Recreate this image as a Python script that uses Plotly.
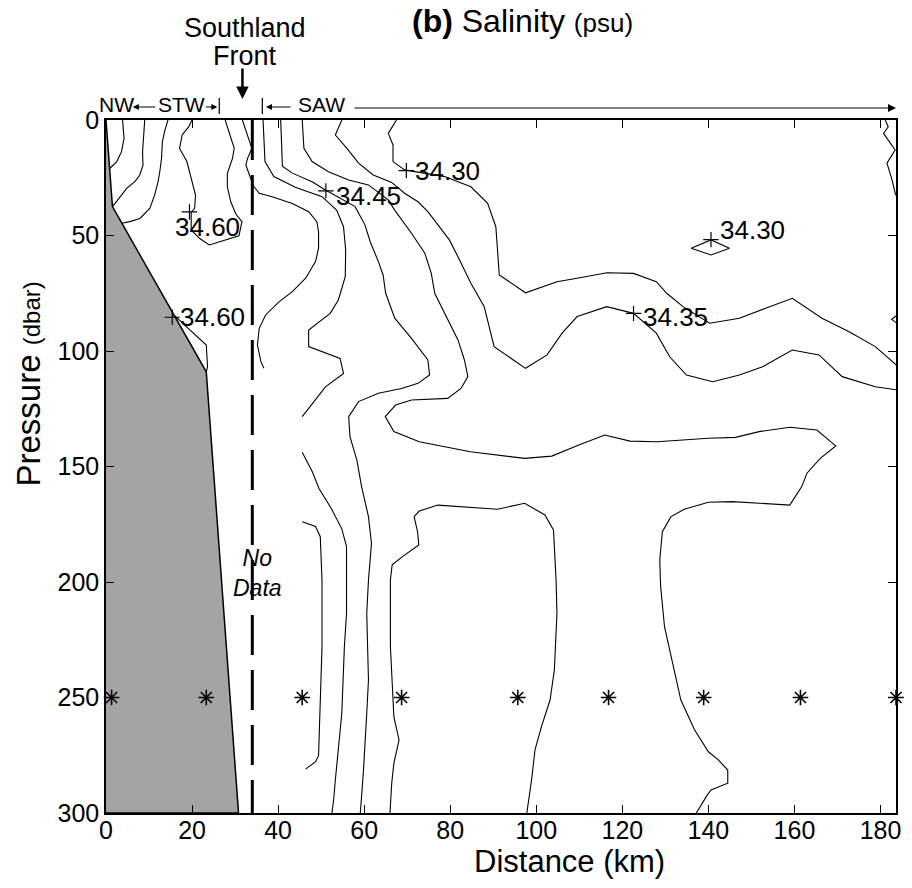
import plotly.graph_objects as go

# ---------------- data (distance km, pressure dbar) ----------------
# bathymetry / shelf polygon (grey)
shelf_x = [0, 1.5, 23.3, 30.8, 0]
shelf_y = [0, 37.5, 109, 300, 300]

# CTD station positions (plotted at 250 dbar)
station_km = [1.3, 23.3, 45.6, 68.7, 95.7, 116.8, 138.9, 161.4, 183.6]
station_p = [250] * len(station_km)

front_km = 34.0  # Southland Front (dashed)

# isohaline traces
A_x = [3.85, 4.2, 3.6, 2.5, 0.85]
A_y = [0, 7.9, 13.7, 18, 21]
B_x = [9.0, 8.6, 8.5, 8.6, 7.85, 6.7, 4.8, 3.6, 2.1, 1.5]
B_y = [0, 9.4, 13.7, 19.5, 23.8, 26.7, 29.6, 32.5, 36.1, 37.5]
C_x = [14.4, 13.6, 13.1, 12.9, 12.5, 12.1, 11.3, 10.2, 7.9, 5.5, 3.7]
C_y = [0, 5, 9.4, 16.6, 22.4, 26.7, 32.5, 38.2, 42.6, 44, 44.7]
D_x = [20.0, 19.2, 17.7, 17.1, 18.8, 19.4, 20.3, 20.8, 20.6, 19.8, 19.8, 21.7, 24.0,
       27.1, 30.9, 31.6, 30.2, 29.0, 28.2, 28.2, 29.4, 29.8, 28.6, 27.7]
D_y = [0, 3, 6.5, 12.3, 18, 22.4, 28.1, 32.5, 38.2, 40, 47.6, 51.2, 54.1,
       52.4, 50.1, 44, 40.8, 35.4, 28.9, 23.1, 16.6, 12.3, 5.1, 0]
F_x = [15.8, 19.4, 23.3, 23.6, 23.3]
F_y = [84.5, 90.9, 97.4, 106.8, 109]
G_x = [31.7, 32.9, 33.9, 32.9, 32.5, 33.6, 34.4, 35.6, 38.6, 43.3, 47.1, 49.0, 49.4,
       49.4, 48.7, 46.4, 43.3, 40.2, 37.1, 35.6, 35.2, 36.0, 36.7]
G_y = [0, 6.5, 12.3, 16.6, 19.5, 25.2, 28.9, 31.7, 33.2, 36.1, 39.7, 44, 48.4,
       55.5, 61.3, 68.5, 74.3, 78.7, 84.4, 90.2, 97.4, 104.6, 107.5]
H_x = [36.5, 36.95, 39, 44, 50.2, 53.6, 55.2, 55.7, 55.6, 54, 52.1, 47.1, 47.1,
       54.4, 55.2, 51, 45.6]
H_y = [0, 18, 24.5, 29.1, 33.2, 39, 46.2, 56.3, 67.8, 77.9, 83.7, 90.9, 98.1,
       103.2, 109.7, 115.5, 128.4]
I_x = [40.6, 41.0, 43.3, 47.9, 51.0, 57.9, 60.2, 61.4, 63.3, 64.4, 65.0, 67.1, 71.0,
       74.8, 75.2, 72.5, 68.7, 63.3, 58.7, 56.4, 56.7, 58.3, 59.4, 61.0, 61.7, 61.0,
       60.6, 61.0, 60.6, 60.2, 59.8, 59.1]
I_y = [0, 20, 23, 26.7, 30.3, 37.5, 45.5, 52.7, 61.3, 67.1, 75, 85.8, 94.5,
       103.9, 110.4, 114, 116.2, 118.3, 121.9, 128.4, 137.1, 147.2, 158.7, 171.7, 183.3, 199.1,
       213.6, 242.4, 256.8, 271.3, 282.8, 300]
J_x = [45.6, 46, 47.9, 51.7, 56.4, 61, 65.6, 67.1, 71, 74.1, 75.6, 76.4, 78.7, 81.8,
       83.3, 84.1, 82.5, 79.4, 71, 67.3, 64.9, 66.9, 72.8, 84.7, 97.3, 103.6, 109.9,
       115.9, 121.8, 128.1, 140, 146.3, 151.8, 158.9, 165.2, 169.6, 166, 162.9, 161.7,
       158.9, 145.5, 140, 134.4, 131.3, 129.3, 128.7, 128.9, 129.8, 131.7, 133.6, 136.8,
       140, 142.3, 144.5, 144.5, 140.6, 139.5, 137.2]
J_y = [0, 12.3, 18, 22.4, 26, 28.1, 34.6, 39, 49, 57.7, 66.4, 75, 83.7, 95.2,
       103.9, 111.1, 116.2, 120.5, 121.2, 123.4, 128.4, 134.9, 139.3, 143.6, 146.5, 145.5, 140.7,
       136.4, 139, 139.3, 137.8, 137.4, 134.9, 133, 134.2, 141.1, 146.5, 152.9, 158.7,
       166.7, 165.2, 165.5, 168.5, 171.7, 178.2, 190.5, 202, 219.3, 235.2, 251.1, 264.1,
       273.5, 277, 281.4, 287.1, 290, 292.9, 300]
K_x = [54.8, 53.3, 56, 58.7, 62.1, 66.4, 69.4, 72.5, 74.8, 77.1, 79.8, 81.8, 84.8, 87.9,
       90.2, 97.5, 102.5, 106, 109.5, 116.4, 122.6, 127.9, 131, 134.9, 141, 147.2, 152.6,
       159.5, 165.7, 171.1, 178.8, 184.1]
K_y = [0, 6.5, 12.3, 18.7, 23.8, 27, 31.7, 35.4, 39.7, 45.5, 51.9, 59.2, 70.7, 80.8,
       98.1, 107.5, 101.7, 92.3, 85.1, 80.8, 83.7, 92.3, 102.5, 110.4, 113.3, 110.4, 106.8,
       99.6, 101.7, 111.1, 115.5, 116.9]
L_x = [67.5, 65.6, 66.7, 66.7, 69.4, 78.7, 84.8, 88.7, 90.6, 91.0, 91.4, 97.5, 104.8,
       109.5, 116.4, 122.6, 127.9, 130.3, 134.1, 140.3, 147.2, 153.3, 159.5, 166.4, 172.6,
       178.8, 184.1]
L_y = [0, 5.8, 10.8, 18, 21.6, 24.5, 28.9, 36.1, 46.2, 54.8, 67.1, 74.8, 70,
       68.5, 66.1, 66.4, 70, 75, 80.8, 88, 85.8, 81.5, 77.2, 85.8, 91.6,
       98.1, 106.8]
M_x = [136, 140.6, 144.9, 140.6, 136]
M_y = [55.5, 51.9, 55.5, 58.4, 55.5]
N_x = [181.1, 181.8, 180.7, 183.4, 181.5, 182.7, 183.4, 184.0]
N_y = [0, 2.9, 5.8, 13, 18.7, 26, 31.7, 34]
O_x = [184.0, 182.6, 184.0]
O_y = [84.3, 86.3, 88.3]
P_x = [66.0, 66.4, 66.9, 68.1, 66.9, 66.5, 66.1, 66.1, 66.5, 68.9, 72.7, 72.4, 71.6, 72.8,
       77.1, 91.0, 97.3, 102.0, 104.0, 104.6, 104.8, 104.2, 103.2, 101.2, 99.7, 98.9, 97.8]
P_y = [300, 287.1, 278.5, 268.4, 258.3, 242.4, 228, 199.1, 192.6, 189, 184, 178.2, 171.7, 169.3,
       166.7, 168.5, 165.9, 171, 177.5, 199.1, 213.6, 238.1, 251.1, 262.6, 272.7, 285.7, 300]
Q_x = [45.6, 48.0, 49.5, 52.3, 54.8, 55.9, 55.9, 55.4, 54.8, 54.0, 53.3, 52.9, 52.5]
Q_y = [143.8, 152.5, 159.5, 168, 177, 184.7, 213.6, 228, 256.8, 271.3, 285.7, 294.4, 300]
R_x = [45.6, 48.7, 49.8, 50.2, 50.2, 49.8, 49.4, 48.7, 46.4]
R_y = [173.9, 176, 180.4, 199.1, 228, 256.8, 275.2, 277.8, 281]

contours = [(A_x, A_y), (B_x, B_y), (C_x, C_y), (D_x, D_y), (F_x, F_y), (G_x, G_y),
            (H_x, H_y), (I_x, I_y), (J_x, J_y), (K_x, K_y), (L_x, L_y), (M_x, M_y),
            (N_x, N_y), (O_x, O_y), (P_x, P_y), (Q_x, Q_y), (R_x, R_y)]

# contour labels: text, "+" point, text centre
label_text = ["34.60", "34.60", "34.45", "34.30", "34.30", "34.35"]
label_px = [19.4, 15.4, 51.1, 69.8, 140.6, 122.6]
label_py = [39.8, 85.4, 30.7, 21.9, 51.8, 83.7]
label_tx = [23.6, 24.8, 61.0, 79.4, 150.3, 132.3]
label_ty = [46.2, 85.1, 32.8, 22.0, 47.6, 85.1]

x_ticks = [0, 20, 40, 60, 80, 100, 120, 140, 160, 180]
y_ticks = [0, 50, 100, 150, 200, 250, 300]

# ---------------- figure ----------------
FONT = "Liberation Sans, Arial, Helvetica, sans-serif"
W, H = 912, 888
L_M, R_M, T_M, B_M = 106, 11, 120, 75
PW, PH = W - L_M - R_M, H - T_M - B_M


def PX(px):
    return (px - L_M) / PW


def PY(py):
    return (H - B_M - py) / PH


fig = go.Figure()

fig.add_trace(go.Scatter(x=shelf_x, y=shelf_y, mode="lines", fill="toself",
                         fillcolor="#a4a4a4", line=dict(color="black", width=1.5),
                         hoverinfo="skip", showlegend=False))

for cx, cy in contours:
    fig.add_trace(go.Scatter(x=cx, y=cy, mode="lines",
                             line=dict(color="black", width=1.1),
                             hoverinfo="skip", showlegend=False))

fig.add_trace(go.Scatter(x=[front_km, front_km], y=[0, 300], mode="lines",
                         line=dict(color="black", width=3, dash="40px,15px"),
                         hoverinfo="skip", showlegend=False))

fig.add_trace(go.Scatter(x=station_km, y=station_p, mode="markers",
                         marker=dict(symbol="asterisk-open", size=13, color="black",
                                     line=dict(color="black", width=1.6)),
                         cliponaxis=False, hoverinfo="skip", showlegend=False))

fig.add_trace(go.Scatter(x=label_px, y=label_py, mode="markers",
                         marker=dict(symbol="cross-thin-open", size=11, color="black",
                                     line=dict(color="black", width=1.2)),
                         hoverinfo="skip", showlegend=False))

ann = []
for t, tx, ty in zip(label_text, label_tx, label_ty):
    ann.append(dict(x=tx, y=ty, xref="x", yref="y", text=t, showarrow=False,
                    font=dict(family=FONT, size=26, color="black"),
                    xanchor="center", yanchor="middle"))


def txt(px, py, text, size, **kw):
    d = dict(x=PX(px), y=PY(py), xref="paper", yref="paper", text=text,
             showarrow=False, font=dict(family=FONT, size=size, color="black"),
             xanchor="center", yanchor="middle")
    d.update(kw)
    ann.append(d)


def arrow(hx, hy, tx, ty, width=1.2, size=1.0, head=2):
    ann.append(dict(x=PX(hx), y=PY(hy), xref="paper", yref="paper", text="",
                    showarrow=True, ax=tx - hx, ay=ty - hy, axref="pixel", ayref="pixel",
                    arrowhead=head, arrowsize=size, arrowwidth=width, arrowcolor="black"))


txt(525, 21, "<b>(b)</b> Salinity <span style='font-size:26px'>(psu)</span>", 32)
txt(246, 28, "Southland", 27)
txt(246, 56, "Front", 27)
arrow(243.3, 99, 243.3, 67, width=2.5, size=1.0)
txt(117, 105, "NW", 21)
txt(181.5, 105, "STW", 21)
txt(322.5, 105, "SAW", 21)
arrow(133, 107, 157, 107, width=1.2, size=1.0)
arrow(218, 107, 205, 107, width=1.2, size=1.0)
arrow(267, 107, 293, 107, width=1.2, size=1.0)
arrow(901, 108, 358, 108, width=1.0, size=1.6)
txt(572.5, 861, "Distance (km)", 31)
txt(28, 384, "Pressure <span style='font-size:24px'>(dbar)</span>", 33, textangle=-90)
txt(258, 573, "<i>No</i><br><i>Data</i>", 23)

shapes = []
for bx in (220, 263.3):
    shapes.append(dict(type="line", xref="paper", yref="paper", x0=PX(bx), x1=PX(bx),
                       y0=PY(98), y1=PY(114), line=dict(color="black", width=1.2)))

axis_common = dict(showline=True, linecolor="black", linewidth=1.5, mirror="ticks",
                   ticks="inside", ticklen=8, tickwidth=1.3, tickcolor="black",
                   showgrid=False, zeroline=False,
                   tickfont=dict(family=FONT, size=25, color="black"))

fig.update_layout(
    width=W, height=H, margin=dict(l=L_M, r=R_M, t=T_M, b=B_M),
    paper_bgcolor="white", plot_bgcolor="white",
    xaxis=dict(range=[0, 183.6], tickvals=x_ticks, ticklabelstandoff=-6, **axis_common),
    yaxis=dict(range=[300, 0], tickvals=y_ticks, **axis_common),
    annotations=ann, shapes=shapes, showlegend=False,
)

fig.write_html("out.html")
